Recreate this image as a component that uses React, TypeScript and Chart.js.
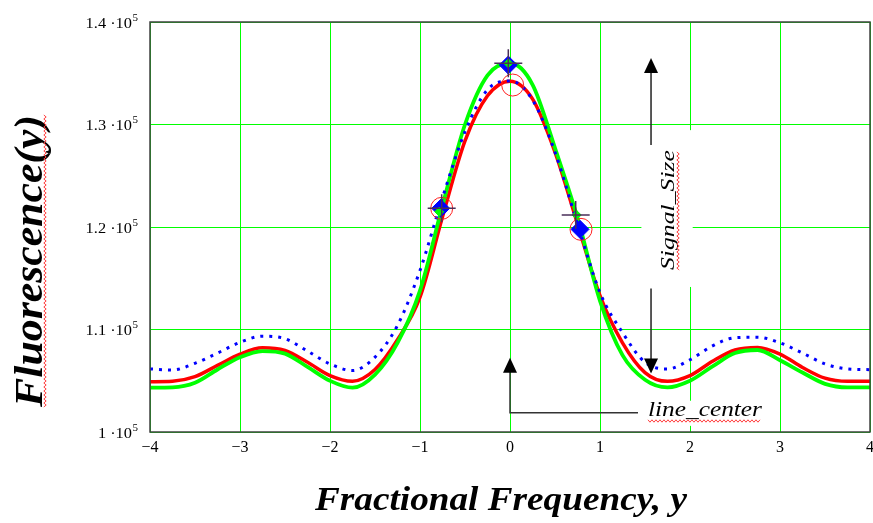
import React, { useEffect, useRef } from "react";
import { Chart, registerables } from "chart.js";

Chart.register(...registerables);

if (typeof document !== "undefined") {
  document.documentElement.style.overflow = "hidden";
  document.body.style.margin = "0";
  document.body.style.overflow = "hidden";
}

// ---- data ----
const xValues = [-4, -3.75, -3.5, -3.25, -3, -2.75, -2.5, -2.25, -2, -1.75, -1.5, -1.25, -1, -0.75, -0.5, -0.25, 0,
  0.25, 0.5, 0.75, 1, 1.25, 1.5, 1.75, 2, 2.25, 2.5, 2.75, 3, 3.25, 3.5, 3.75, 4];

const greenCurve = [104320, 104350, 104800, 106100, 107300, 107900, 107650, 106350, 105000, 104320, 105600, 108700, 113800,
  122100, 130000, 134800, 136000, 133900, 127700, 120900, 112800, 107500, 105100, 104350, 105000, 106400, 107700, 108000,
  107000, 105800, 104700, 104350, 104350];

const redCurve = [104910, 104950, 105400, 106500, 107600, 108220, 107950, 106800, 105500, 104950, 106100, 109000, 113150,
  121000, 128400, 132800, 134230, 132500, 127300, 120300, 113300, 108700, 105800, 104940, 105500, 106900, 108000, 108250,
  107600, 106300, 105250, 104940, 104940];

const blueCurve = [106150, 106050, 106700, 107700, 108750, 109350, 109100, 107900, 106640, 106000, 107300, 110400, 115760,
  122860, 129300, 133400, 134250, 132400, 127300, 120300, 113600, 109700, 106800, 106150, 107050, 108400, 109200, 109250,
  108700, 107700, 106650, 106150, 106080];

const diamondX = [-0.77, -0.019, 0.778];
const diamondY = [121820, 135800, 119770];
const circleX = [-0.759, 0.03, 0.789];
const circleY = [121820, 133850, 119770];
const greenPtX = [-0.786, -0.019, 0.741];
const greenPtY = [121490, 135970, 121170];
const crossX = [-0.759, -0.019, 0.73];
const crossY = [121820, 135970, 121170];

const xTicks = [-4, -3, -2, -1, 0, 1, 2, 3, 4];
const yTicks = [100000, 110000, 120000, 130000, 140000];

const xTitle = "Fractional Frequency, y";
const yTitle = "Fluorescence(y)";
const signalLabel = "Signal_Size";
const centerLabel = "line_center";

// annotation anchors in data units
const signalArrowX = 1.567;
const signalUpTip = 136480;
const signalUpStart = 128000;
const signalDownStart = 114000;
const signalDownTip = 105700;
const signalBox = { x0: 1.46, x1: 2.03, y0: 114150, y1: 129450 };
const centerArrowX = 0;
const centerTip = 107250;
const centerCorner = 101880;
const centerLineEnd = 1.422;
const centerBox = { x0: 1.44, x1: 2.9, y0: 100600, y1: 103050 };

const pts = (xs: number[], ys: number[]) => xs.map((x, i) => ({ x, y: ys[i] }));

const SERIF = '"Liberation Serif", "Times New Roman", serif';

function fitText(ctx: CanvasRenderingContext2D, text: string, font: string, cx: number, cy: number, width: number, rotate: boolean) {
  ctx.save();
  ctx.font = font;
  const w = ctx.measureText(text).width;
  ctx.translate(cx, cy);
  if (rotate) ctx.rotate(-Math.PI / 2);
  ctx.scale(width / w, 1);
  ctx.textAlign = "center";
  ctx.textBaseline = "alphabetic";
  ctx.fillStyle = "#000";
  ctx.fillText(text, 0, 0);
  ctx.restore();
}

function stretchRight(ctx: CanvasRenderingContext2D, text: string, font: string, rx: number, y: number, sx: number) {
  ctx.save();
  ctx.font = font;
  const w = ctx.measureText(text).width * sx;
  ctx.translate(rx - w, y);
  ctx.scale(sx, 1);
  ctx.textAlign = "left";
  ctx.fillText(text, 0, 0);
  ctx.restore();
  return w;
}

function squiggle(ctx: CanvasRenderingContext2D, x0: number, y0: number, len: number, vertical: boolean) {
  ctx.save();
  ctx.strokeStyle = "#ff4040";
  ctx.lineWidth = 1;
  ctx.beginPath();
  for (let t = 0, k = 0; t <= len; t += 2, k++) {
    const off = k % 2 === 0 ? -1.2 : 1.2;
    if (vertical) {
      if (t === 0) ctx.moveTo(x0 + off, y0 + t); else ctx.lineTo(x0 + off, y0 + t);
    } else {
      if (t === 0) ctx.moveTo(x0 + t, y0 + off); else ctx.lineTo(x0 + t, y0 + off);
    }
  }
  ctx.stroke();
  ctx.restore();
}

function arrowHead(ctx: CanvasRenderingContext2D, x: number, tipY: number, dir: number) {
  ctx.beginPath();
  ctx.moveTo(x, tipY);
  ctx.lineTo(x - 7, tipY - dir * 15);
  ctx.lineTo(x + 7, tipY - dir * 15);
  ctx.closePath();
  ctx.fill();
}

const overlayPlugin = {
  id: "overlay",
  beforeDatasetsDraw(chart: any) {
    const { ctx, scales } = chart;
    const x = scales.x, y = scales.y;
    ctx.save();
    ctx.fillStyle = "#ffffff";
    for (const b of [signalBox, centerBox]) {
      const l = x.getPixelForValue(b.x0), r = x.getPixelForValue(b.x1);
      const t = y.getPixelForValue(b.y1), bt = y.getPixelForValue(b.y0);
      ctx.fillRect(l, t, r - l, bt - t);
    }
    ctx.restore();
  },
  afterDraw(chart: any) {
    const { ctx, scales, chartArea } = chart;
    const x = scales.x, y = scales.y;
    ctx.save();
    // frame
    ctx.strokeStyle = "#404040";
    ctx.lineWidth = 1.5;
    ctx.strokeRect(chartArea.left, chartArea.top, chartArea.right - chartArea.left, chartArea.bottom - chartArea.top);

    // y tick labels: "1.4 ·10" + superscript 5
    ctx.fillStyle = "#000";
    ctx.textBaseline = "middle";
    for (const v of yTicks) {
      const py = y.getPixelForValue(v) + 2;
      const mant = String(Math.round(v / 10000) / 10);
      const right = chartArea.left - 12;
      const supW = stretchRight(ctx, "5", "10px " + SERIF, right, py - 6, 1.1);
      stretchRight(ctx, mant + " \u00B710", "14px " + SERIF, right - supW - 0.5, py, 1.17);
    }
    // x tick labels
    ctx.font = "16px " + SERIF;
    ctx.textAlign = "center";
    ctx.textBaseline = "middle";
    for (const v of xTicks) {
      const px = x.getPixelForValue(v);
      const label = v < 0 ? "\u2212" + Math.abs(v) : String(v);
      ctx.fillText(label, px, chartArea.bottom + 16);
    }

    // titles
    const cxPlot = (chartArea.left + chartArea.right) / 2;
    fitText(ctx, xTitle, "bold italic 34px " + SERIF, cxPlot - 9, 510, 372, false);
    fitText(ctx, yTitle, "bold italic 40px " + SERIF, 42, 261, 292, true);
    squiggle(ctx, 45, 115, 292, true);

    // Signal_Size arrows
    ctx.strokeStyle = "#222";
    ctx.fillStyle = "#000";
    ctx.lineWidth = 1.5;
    const sx = x.getPixelForValue(signalArrowX);
    const upTip = y.getPixelForValue(signalUpTip);
    const upStart = y.getPixelForValue(signalUpStart);
    ctx.beginPath();
    ctx.moveTo(sx, upStart);
    ctx.lineTo(sx, upTip + 12);
    ctx.stroke();
    arrowHead(ctx, sx, upTip, -1);
    const dnTip = y.getPixelForValue(signalDownTip);
    const dnStart = y.getPixelForValue(signalDownStart);
    ctx.beginPath();
    ctx.moveTo(sx, dnStart);
    ctx.lineTo(sx, dnTip - 12);
    ctx.stroke();
    arrowHead(ctx, sx, dnTip, 1);
    const labelX = sx + 23;
    fitText(ctx, signalLabel, "italic 19px " + SERIF, labelX, 210, 120, true);
    squiggle(ctx, labelX + 4, 152, 118, true);

    // line_center arrow
    const cx = x.getPixelForValue(centerArrowX);
    const cTip = y.getPixelForValue(centerTip);
    const cCorner = y.getPixelForValue(centerCorner);
    const cEnd = x.getPixelForValue(centerLineEnd);
    ctx.strokeStyle = "#333";
    ctx.beginPath();
    ctx.moveTo(cx, cTip + 12);
    ctx.lineTo(cx, cCorner);
    ctx.lineTo(cEnd, cCorner);
    ctx.stroke();
    arrowHead(ctx, cx, cTip, -1);
    const clx = cEnd + 67;
    fitText(ctx, centerLabel, "italic 21px " + SERIF, clx, 416, 114, false);
    squiggle(ctx, clx - 57, 421, 112, false);
    ctx.restore();
  },
};

export default function App() {
  const ref = useRef<HTMLCanvasElement | null>(null);

  useEffect(() => {
    const canvas = ref.current;
    if (!canvas) return;
    const chart = new Chart(canvas, {
      type: "line",
      data: {
        datasets: [
          {
            label: "cross",
            type: "scatter",
            data: pts(crossX, crossY),
            pointStyle: "cross",
            pointRadius: 14,
            borderColor: "#4a2f5a",
            borderWidth: 1.5,
            showLine: false,
            order: 0,
          },
          {
            label: "green pts",
            type: "scatter",
            data: pts(greenPtX, greenPtY),
            pointStyle: "rectRot",
            pointRadius: 4.5,
            backgroundColor: "#00ff00",
            borderColor: "#00ff00",
            borderWidth: 1,
            showLine: false,
            order: 1,
          },
          {
            label: "circles",
            type: "scatter",
            data: pts(circleX, circleY),
            pointStyle: "circle",
            pointRadius: 11,
            backgroundColor: "rgba(0,0,0,0)",
            borderColor: "#ff2020",
            borderWidth: 1,
            showLine: false,
            order: 2,
          },
          {
            label: "diamonds",
            type: "scatter",
            data: pts(diamondX, diamondY),
            pointStyle: "rectRot",
            pointRadius: 9,
            backgroundColor: "#0000ff",
            borderColor: "#0000ff",
            borderWidth: 1,
            showLine: false,
            order: 3,
          },
          {
            label: "blue",
            data: pts(xValues, blueCurve),
            borderColor: "#0000ff",
            borderWidth: 3,
            borderDash: [3, 6],
            borderCapStyle: "butt",
            pointRadius: 0,
            cubicInterpolationMode: "monotone",
            fill: false,
            order: 10,
          },
          {
            label: "green",
            data: pts(xValues, greenCurve),
            borderColor: "#00ff00",
            borderWidth: 3.8,
            pointRadius: 0,
            cubicInterpolationMode: "monotone",
            fill: false,
            order: 11,
          },
          {
            label: "red",
            data: pts(xValues, redCurve),
            borderColor: "#ff0000",
            borderWidth: 3.5,
            pointRadius: 0,
            cubicInterpolationMode: "monotone",
            fill: false,
            order: 12,
          },
        ],
      },
      options: {
        responsive: false,
        animation: false,
        devicePixelRatio: 1,
        layout: { autoPadding: false, padding: { left: 150, right: 3, top: 22, bottom: 91 } },
        plugins: { legend: { display: false }, tooltip: { enabled: false }, title: { display: false } },
        scales: {
          x: {
            type: "linear",
            min: -4,
            max: 4,
            ticks: { display: false, stepSize: 1 },
            grid: { color: "#00ff00", lineWidth: 1, drawTicks: false },
            border: { display: false },
          },
          y: {
            type: "linear",
            min: 100000,
            max: 140000,
            ticks: { display: false, stepSize: 10000 },
            grid: { color: "#00ff00", lineWidth: 1, drawTicks: false },
            border: { display: false },
          },
        },
      },
      plugins: [overlayPlugin],
    } as any);
    return () => chart.destroy();
  }, []);

  return (
    <div style={{ width: 873, height: 523, background: "#fff" }}>
      <canvas ref={ref} width={873} height={523} style={{ display: "block", width: 873, height: 523 }} />
    </div>
  );
}
